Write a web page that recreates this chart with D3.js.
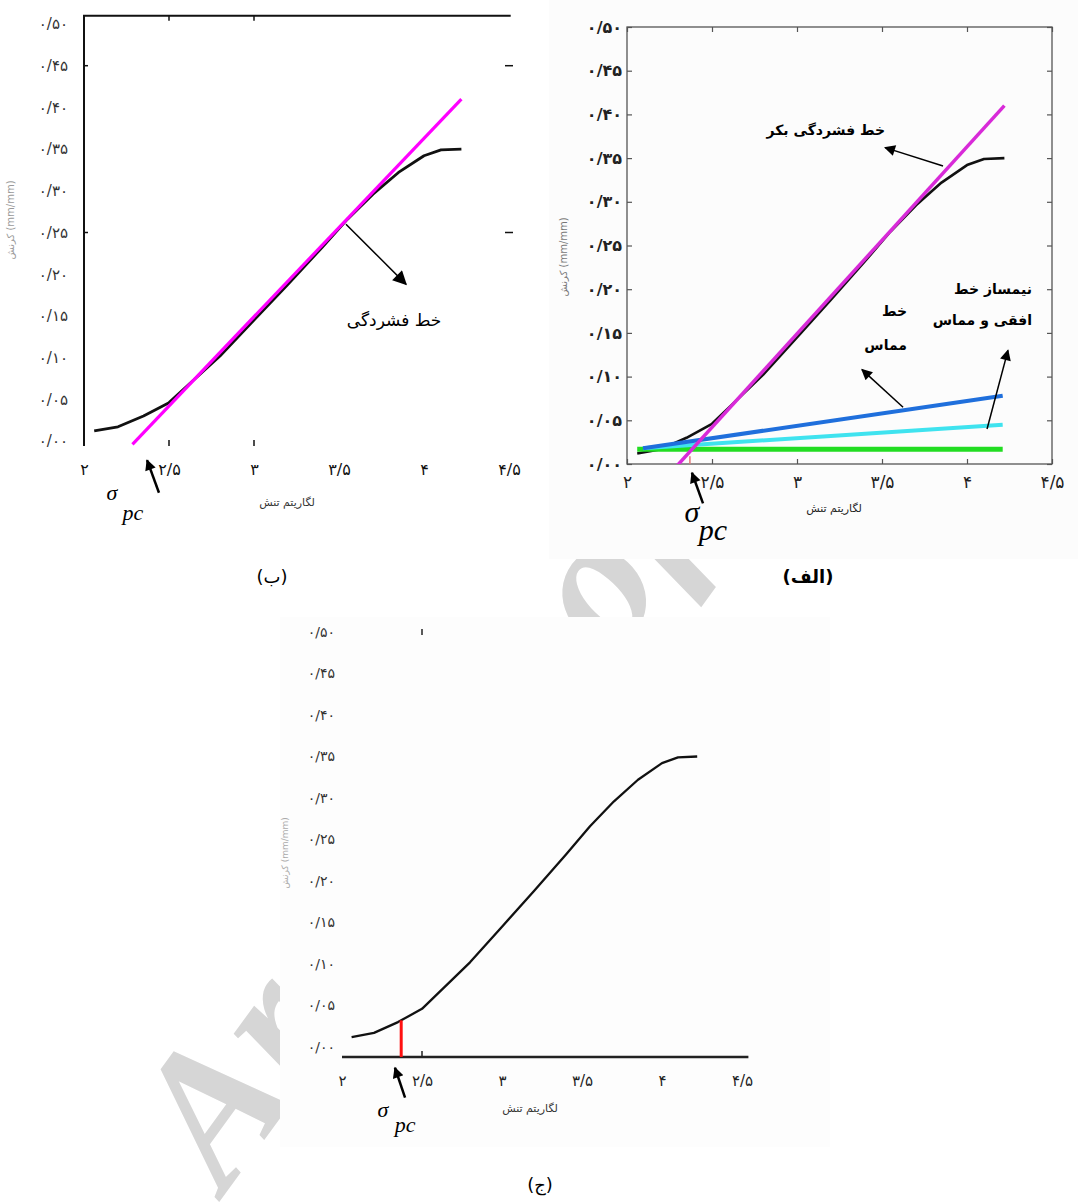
<!DOCTYPE html>
<html>
<head>
<meta charset="utf-8">
<script src="https://cdn.jsdelivr.net/npm/d3@7"></script>
<style>
  body { margin: 0; background: #fff; }
</style>
</head>
<body>
<svg id="chart" width="1078" height="1203" font-family="DejaVu Sans, sans-serif"></svg>
<script>
const xTicks = [2, 2.5, 3, 3.5, 4, 4.5]
const xTickLabels = ['۲', '۲/۵', '۳', '۳/۵', '۴', '۴/۵']
const yTicks = [0, 0.05, 0.1, 0.15, 0.2, 0.25, 0.3, 0.35, 0.4, 0.45, 0.5]
const yTickLabels = ['۰/۰۰', '۰/۰۵', '۰/۱۰', '۰/۱۵', '۰/۲۰', '۰/۲۵', '۰/۳۰', '۰/۳۵', '۰/۴۰', '۰/۴۵', '۰/۵۰']

// strain against log of stress
const logStress = [2.06, 2.2, 2.35, 2.5, 2.65, 2.8, 3.0, 3.2, 3.4, 3.55, 3.7, 3.85, 4.0, 4.1, 4.22]
const strain = [0.012, 0.017, 0.03, 0.046, 0.074, 0.102, 0.145, 0.188, 0.232, 0.266, 0.296, 0.322, 0.342, 0.349, 0.35]

const virginX = [2.285, 4.22]
const virginY = [-0.004, 0.41]
const tangentX = [2.094, 4.21]
const tangentY = [0.018, 0.078]
const bisectorX = [2.094, 4.21]
const bisectorY = [0.018, 0.045]
const horizontalX = [2.06, 4.21]
const horizontalY = [0.017, 0.017]
const sigmaPc = 2.37

const yTitle = 'کرنش (mm/mm)'
const xTitle = 'لگاریتم تنش'
const serif = 'Liberation Serif, DejaVu Serif, serif'

const svg = d3.select('#chart')

// faint watermark, mostly hidden behind the scans
svg.append('text')
  .attr('transform', 'translate(225,1194) rotate(-54)')
  .attr('font-family', serif)
  .attr('font-style', 'italic')
  .attr('font-weight', 'bold')
  .attr('font-size', 190)
  .attr('fill', '#d6d6d6')
  .text('Archive of SID')

const pages = [[0, 0, 547, 540, '#fff'], [549, 0, 529, 559, '#fcfcfc'], [280, 617, 550, 530, '#fdfdfd']]
svg.selectAll('rect.page').data(pages).join('rect')
  .attr('class', 'page')
  .attr('x', d => d[0]).attr('y', d => d[1])
  .attr('width', d => d[2]).attr('height', d => d[3])
  .attr('fill', d => d[4])

const defs = svg.append('defs')
function marker (id, w, h) {
  defs.append('marker')
    .attr('id', id)
    .attr('viewBox', '0 0 10 10')
    .attr('refX', 9).attr('refY', 5)
    .attr('markerUnits', 'userSpaceOnUse')
    .attr('markerWidth', w).attr('markerHeight', h)
    .attr('orient', 'auto')
    .append('path')
      .attr('d', 'M0,0L10,5L0,10z')
      .attr('fill', '#000')
}
marker('head', 14, 11)
marker('bighead', 16, 14)

const fmtX = (d, i) => xTickLabels[i]
const fmtY = (d, i) => yTickLabels[i]

function scales (xRange, yRange) {
  return {
    x: d3.scaleLinear().domain([2, 4.5]).range(xRange),
    y: d3.scaleLinear().domain([0, 0.5]).range(yRange)
  }
}

function addLine (g, s, xs, ys, color, width) {
  return g.append('path')
    .datum(d3.zip(xs, ys))
    .attr('fill', 'none')
    .attr('stroke', color)
    .attr('stroke-width', width)
    .attr('stroke-linejoin', 'round')
    .attr('d', d3.line().x(d => s.x(d[0])).y(d => s.y(d[1])))
}

function addArrow (g, s, from, to, width, head) {
  g.append('line')
    .attr('x1', s.x(from[0])).attr('y1', s.y(from[1]))
    .attr('x2', s.x(to[0])).attr('y2', s.y(to[1]))
    .attr('stroke', '#000')
    .attr('stroke-width', width)
    .attr('marker-end', `url(#${head})`)
}

function addText (g, s, at, str, size, anchor, weight) {
  return g.append('text')
    .attr('x', s.x(at[0])).attr('y', s.y(at[1]))
    .attr('text-anchor', anchor)
    .attr('font-size', size)
    .attr('font-weight', weight || 'normal')
    .text(str)
}

function addSigma (g, s, sigmaAt, pcAt, size) {
  const t = g.append('text')
    .attr('font-family', serif)
    .attr('font-style', 'italic')
    .attr('font-size', size)
    .attr('text-anchor', 'middle')
  t.append('tspan')
    .attr('x', s.x(sigmaAt[0])).attr('y', s.y(sigmaAt[1]))
    .text('σ')
  t.append('tspan')
    .attr('x', s.x(pcAt[0])).attr('y', s.y(pcAt[1]))
    .text('pc')
}

function addYTitle (g, s, at, size, color) {
  g.append('text')
    .attr('transform', `translate(${s.x(at[0])},${s.y(at[1])}) rotate(-90)`)
    .attr('text-anchor', 'middle')
    .attr('font-size', size)
    .attr('fill', color)
    .text(yTitle)
}

function styleLabels (a, size, color, weight) {
  a.select('.domain').remove()
  a.selectAll('text')
    .attr('font-size', size)
    .attr('fill', color)
    .attr('font-weight', weight || 'normal')
    .attr('font-family', 'DejaVu Sans, sans-serif')
}

function interpStrain (v) {
  return d3.scaleLinear().domain(logStress).range(strain)(v)
}

// ---------- panel (ب) ----------
{
  const g = svg.append('g')
  const s = scales([84, 509], [441, 24])
  const top = s.y(0.51)
  const bottom = s.y(-0.006)

  g.append('path')
    .attr('d', `M${s.x(2)},${bottom}V${top}H${s.x(4.51)}`)
    .attr('fill', 'none').attr('stroke', '#111').attr('stroke-width', 2)

  const few = [2.5, 3]
  g.selectAll('.tb').data(few).join('line')
    .attr('x1', d => s.x(d)).attr('x2', d => s.x(d))
    .attr('y1', top).attr('y2', top + 5)
    .attr('stroke', '#111').attr('stroke-width', 1.5)
  g.selectAll('.bb').data(few).join('line')
    .attr('x1', d => s.x(d)).attr('x2', d => s.x(d))
    .attr('y1', bottom - 6).attr('y2', bottom)
    .attr('stroke', '#111').attr('stroke-width', 1.5)
  g.selectAll('.lb').data([0.45, 0.25]).join('line')
    .attr('x1', s.x(2)).attr('x2', s.x(2) + 4)
    .attr('y1', d => s.y(d)).attr('y2', d => s.y(d))
    .attr('stroke', '#111').attr('stroke-width', 1.5)
  g.selectAll('.rb').data([0.45, 0.25]).join('line')
    .attr('x1', s.x(4.5) - 4).attr('x2', s.x(4.5) + 4)
    .attr('y1', d => s.y(d)).attr('y2', d => s.y(d))
    .attr('stroke', '#111').attr('stroke-width', 1.5)

  g.append('g')
    .attr('transform', `translate(${s.x(2)},0)`)
    .call(d3.axisLeft(s.y).tickValues(yTicks).tickFormat(fmtY).tickSize(0).tickPadding(16))
    .call(a => styleLabels(a, 15, '#333'))

  g.append('g')
    .attr('transform', `translate(0,${bottom})`)
    .call(d3.axisBottom(s.x).tickValues(xTicks).tickFormat(fmtX).tickSize(0).tickPadding(18))
    .call(a => styleLabels(a, 16, '#111'))

  addLine(g, s, logStress, strain, '#111', 2.8)
  addLine(g, s, virginX, virginY, '#ff00ff', 3.2)

  addArrow(g, s, [3.541, 0.26], [3.894, 0.188], 1.5, 'bighead')
  addText(g, s, [3.824, 0.138], 'خط فشردگی', 17, 'middle')

  addArrow(g, s, [2.441, -0.062], [2.371, -0.023], 2.5, 'head')
  addSigma(g, s, [2.165, -0.071], [2.288, -0.095], 22)
  addText(g, s, [3.194, -0.078], xTitle, 11, 'middle').attr('fill', '#333')
  addYTitle(g, s, [1.59, 0.265], 10, '#999')
}

// ---------- panel (الف) ----------
{
  const g = svg.append('g')
  const s = scales([627, 1052], [464, 27])

  defs.append('clipPath').attr('id', 'boxA')
    .append('rect')
      .attr('x', s.x(2)).attr('y', s.y(0.5))
      .attr('width', s.x(4.5) - s.x(2)).attr('height', s.y(0) - s.y(0.5))

  const inward = a => a.call(x => x.select('.domain').remove())
    .call(x => x.selectAll('line').attr('stroke', '#555').attr('stroke-width', 1.2))

  g.append('g').attr('transform', `translate(${s.x(2)},0)`)
    .call(d3.axisLeft(s.y).tickValues(yTicks).tickFormat(fmtY).tickSizeInner(-5).tickSizeOuter(0).tickPadding(5))
    .call(inward)
    .call(a => styleLabels(a, 16, '#222', 'bold'))
  g.append('g').attr('transform', `translate(${s.x(4.5)},0)`)
    .call(d3.axisRight(s.y).tickValues(yTicks).tickFormat('').tickSizeInner(-5).tickSizeOuter(0))
    .call(inward)
  g.append('g').attr('transform', `translate(0,${s.y(0)})`)
    .call(d3.axisBottom(s.x).tickValues(xTicks).tickFormat(fmtX).tickSizeInner(-5).tickSizeOuter(0).tickPadding(12))
    .call(inward)
    .call(a => styleLabels(a, 17, '#222'))
  g.append('g').attr('transform', `translate(0,${s.y(0.5)})`)
    .call(d3.axisTop(s.x).tickValues(xTicks).tickFormat('').tickSizeInner(-5).tickSizeOuter(0))
    .call(inward)

  g.append('rect')
    .attr('x', s.x(2)).attr('y', s.y(0.5))
    .attr('width', s.x(4.5) - s.x(2)).attr('height', s.y(0) - s.y(0.5))
    .attr('fill', 'none').attr('stroke', '#555').attr('stroke-width', 1.3)

  g.append('line')
    .attr('x1', s.x(sigmaPc)).attr('x2', s.x(sigmaPc))
    .attr('y1', s.y(0)).attr('y2', s.y(0.009))
    .attr('stroke', '#e07878').attr('stroke-width', 1.5)

  const plot = g.append('g').attr('clip-path', 'url(#boxA)')
  addLine(plot, s, logStress, strain, '#111', 2.6)
  addLine(plot, s, horizontalX, horizontalY, '#22dd22', 5)
  addLine(plot, s, bisectorX, bisectorY, '#3fe3ef', 4)
  addLine(plot, s, tangentX, tangentY, '#1f6fdc', 4)
  addLine(plot, s, virginX, virginY, '#d82ad8', 3.5)

  addText(g, s, [3.518, 0.376], 'خط فشردگی بکر', 14, 'end', 'bold')
  addArrow(g, s, [3.859, 0.341], [3.518, 0.362], 1.5, 'head')
  addText(g, s, [3.647, 0.169], 'خط', 14, 'end', 'bold')
  addText(g, s, [3.647, 0.13], 'مماس', 14, 'end', 'bold')
  addArrow(g, s, [3.624, 0.065], [3.382, 0.108], 1.5, 'head')
  addText(g, s, [4.382, 0.195], 'نیمساز خط', 14, 'end', 'bold')
  addText(g, s, [4.382, 0.159], 'افقی و مماس', 14, 'end', 'bold')
  addArrow(g, s, [4.118, 0.04], [4.241, 0.13], 1.5, 'head')

  addArrow(g, s, [2.447, -0.045], [2.382, -0.01], 2.5, 'head')
  addSigma(g, s, [2.382, -0.066], [2.506, -0.087], 30)
  addText(g, s, [3.218, -0.055], xTitle, 11, 'middle').attr('fill', '#222')
  addYTitle(g, s, [1.647, 0.237], 10, '#777')
}

// ---------- panel (ج) ----------
{
  const g = svg.append('g')
  const s = scales([342, 742], [1047, 632])
  const base = s.y(-0.012)

  g.append('line')
    .attr('x1', s.x(2)).attr('x2', s.x(4.54))
    .attr('y1', base).attr('y2', base)
    .attr('stroke', '#222').attr('stroke-width', 2.5)
  g.append('line')
    .attr('x1', s.x(2.5)).attr('x2', s.x(2.5))
    .attr('y1', base - 6).attr('y2', base)
    .attr('stroke', '#222').attr('stroke-width', 1.5)
  g.append('line')
    .attr('x1', s.x(2.5)).attr('x2', s.x(2.5))
    .attr('y1', s.y(0.5) - 3).attr('y2', s.y(0.5) + 3)
    .attr('stroke', '#222').attr('stroke-width', 1.5)

  g.append('g')
    .attr('transform', `translate(${s.x(2) - 7},0)`)
    .call(d3.axisLeft(s.y).tickValues(yTicks).tickFormat(fmtY).tickSize(0).tickPadding(0))
    .call(a => styleLabels(a, 14, '#333'))

  g.append('g')
    .attr('transform', `translate(0,${base})`)
    .call(d3.axisBottom(s.x).tickValues(xTicks).tickFormat(fmtX).tickSize(0).tickPadding(18))
    .call(a => styleLabels(a, 15, '#222'))

  addLine(g, s, logStress, strain, '#111', 2.3)
  g.append('line')
    .attr('x1', s.x(sigmaPc)).attr('x2', s.x(sigmaPc))
    .attr('y1', base).attr('y2', s.y(interpStrain(sigmaPc)))
    .attr('stroke', '#ff1010').attr('stroke-width', 3)

  addArrow(g, s, [2.394, -0.061], [2.331, -0.025], 2.5, 'head')
  addSigma(g, s, [2.256, -0.084], [2.394, -0.102], 22)
  addText(g, s, [3.175, -0.078], xTitle, 11, 'middle').attr('fill', '#333')
  addYTitle(g, s, [1.66, 0.234], 9, '#aaa')
}

// panel captions
const captions = [['(ب)', 272, 583, 'normal'], ['(الف)', 808, 583, 'bold'], ['(ج)', 540, 1191, 'normal']]
svg.selectAll('text.caption').data(captions).join('text')
  .attr('class', 'caption')
  .attr('x', d => d[1]).attr('y', d => d[2])
  .attr('text-anchor', 'middle')
  .attr('font-size', 18)
  .attr('font-weight', d => d[3])
  .text(d => d[0])
</script>
</body>
</html>
